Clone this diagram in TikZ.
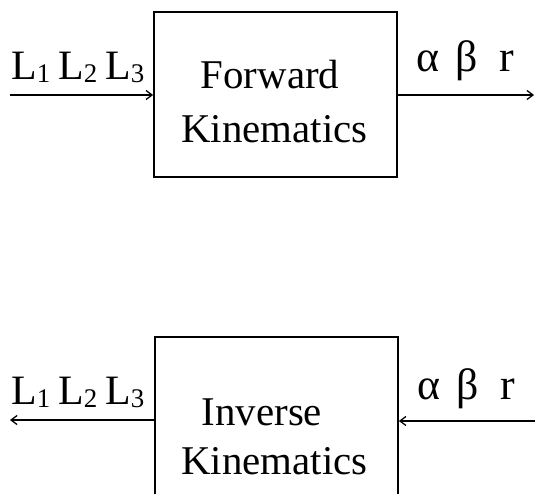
\documentclass[tikz,border=0pt]{standalone}
\usepackage{fontspec}
\setmainfont{Liberation Serif}
\usetikzlibrary{arrows.meta}
\newcommand\Lsub[1]{L\raisebox{-3bp}{\fontsize{27}{27}\selectfont #1}}
\begin{document}
\begin{tikzpicture}[x=1bp,y=-1bp,
  blockbox/.style={draw,line width=1.8bp,inner sep=0pt},
  boxtext/.style={font=\fontsize{41}{49}\selectfont,inner sep=0pt,anchor=base},
  siglabel/.style={font=\fontsize{42}{42}\selectfont,inner sep=0pt,anchor=base west},
  sig/.style={line width=1.3bp,-{Straight Barb[length=6bp,width=9bp,line width=1.3bp]}}]
\useasboundingbox (0,0) rectangle (535,494);
\clip (0,0) rectangle (535,494);
% forward block
\node[blockbox,minimum width=243bp,minimum height=165bp] (fk) at (275.5,94.5) {};
\node[boxtext] (fkA) at (270,89) {Forward};
\node[boxtext] (fkB) at (274.5,143) {Kinematics};
\coordinate (fin) at (10,95);
\coordinate (fout) at (534,95);
\draw[sig] (fin) -- (fk.west |- fin);
\draw[sig] (fk.east |- fout) -- (fout);
\node[siglabel] (fl) at (11,80) {\Lsub{1}\hspace{8bp}\Lsub{2}\hspace{8bp}\Lsub{3}};
\node[siglabel] (fr) at (416,72) {\fontsize{44}{44}\selectfont α\hspace{16bp}β\hspace{22bp}r};
% inverse block
\node[blockbox,minimum width=243bp,minimum height=200bp] (ik) at (276.5,437) {};
\node[boxtext] (ikA) at (262,425) {Inverse};
\node[boxtext] (ikB) at (274.5,474) {Kinematics};
\coordinate (iout) at (10,420);
\coordinate (iin) at (536,421);
\draw[sig] (ik.west |- iout) -- (iout);
\draw[sig] (iin) -- (ik.east |- iin);
\node[siglabel] (il) at (11,404) {\Lsub{1}\hspace{8bp}\Lsub{2}\hspace{8bp}\Lsub{3}};
\node[siglabel] (ir) at (417,399) {\fontsize{44}{44}\selectfont α\hspace{16bp}β\hspace{22bp}r};
\end{tikzpicture}
\end{document}
